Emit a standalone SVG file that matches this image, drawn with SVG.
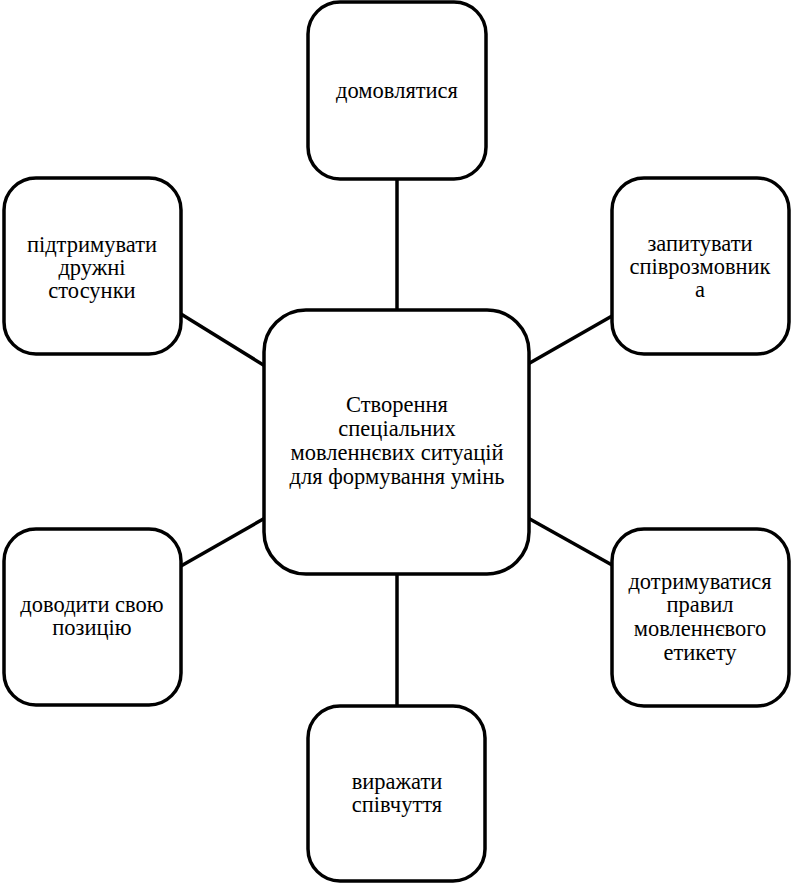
<svg xmlns="http://www.w3.org/2000/svg" width="793" height="884" viewBox="0 0 793 884">
<style>
.box{fill:#fff;stroke:#000;stroke-width:3.5}
.ln{stroke:#000;stroke-width:3.5;fill:none}
.t{font-family:'Liberation Serif','Times New Roman',serif;font-size:22.5px;fill:#000;text-anchor:middle}
</style>
<rect width="793" height="884" fill="#fff"/>
<g id="connectors">
<line class="ln" x1="397" y1="179" x2="397" y2="311"/>
<line class="ln" x1="397" y1="573" x2="397" y2="706"/>
<line class="ln" x1="181" y1="314" x2="265" y2="366"/>
<line class="ln" x1="181" y1="566" x2="265" y2="518"/>
<line class="ln" x1="612" y1="316" x2="528" y2="364"/>
<line class="ln" x1="612" y1="565" x2="528" y2="518"/>
</g>
<g id="center">
<rect class="box" x="264" y="310" width="265" height="264" rx="42"/>
<text class="t" x="397" y="412" font-family="Liberation Serif">Створення</text>
<text class="t" x="397" y="436" font-family="Liberation Serif">спеціальних</text>
<text class="t" x="397" y="460" font-family="Liberation Serif">мовленнєвих ситуацій</text>
<text class="t" x="397" y="484" font-family="Liberation Serif">для формування умінь</text>
</g>
<g id="top">
<rect class="box" x="308" y="2" width="178" height="177" rx="32"/>
<text class="t" x="397" y="98" font-family="Liberation Serif">домовлятися</text>
</g>
<g id="left-top">
<rect class="box" x="4" y="178" width="177" height="176" rx="32"/>
<text class="t" x="92" y="252" font-family="Liberation Serif">підтримувати</text>
<text class="t" x="92" y="275" font-family="Liberation Serif">дружні</text>
<text class="t" x="92" y="298" font-family="Liberation Serif">стосунки</text>
</g>
<g id="right-top">
<rect class="box" x="612" y="178" width="177" height="176" rx="32"/>
<text class="t" x="700" y="251" font-family="Liberation Serif">запитувати</text>
<text class="t" x="700" y="274" font-family="Liberation Serif">співрозмовник</text>
<text class="t" x="700" y="297" font-family="Liberation Serif">а</text>
</g>
<g id="left-bottom">
<rect class="box" x="4" y="529" width="177" height="176" rx="32"/>
<text class="t" x="92" y="612" font-family="Liberation Serif">доводити свою</text>
<text class="t" x="92" y="635" font-family="Liberation Serif">позицію</text>
</g>
<g id="right-bottom">
<rect class="box" x="612" y="529" width="177" height="177" rx="32"/>
<text class="t" x="700" y="589" font-family="Liberation Serif">дотримуватися</text>
<text class="t" x="700" y="612" font-family="Liberation Serif">правил</text>
<text class="t" x="700" y="636" font-family="Liberation Serif">мовленнєвого</text>
<text class="t" x="700" y="660" font-family="Liberation Serif">етикету</text>
</g>
<g id="bottom">
<rect class="box" x="308" y="706" width="177" height="175" rx="32"/>
<text class="t" x="397" y="789" font-family="Liberation Serif">виражати</text>
<text class="t" x="397" y="812" font-family="Liberation Serif">співчуття</text>
</g>
</svg>
